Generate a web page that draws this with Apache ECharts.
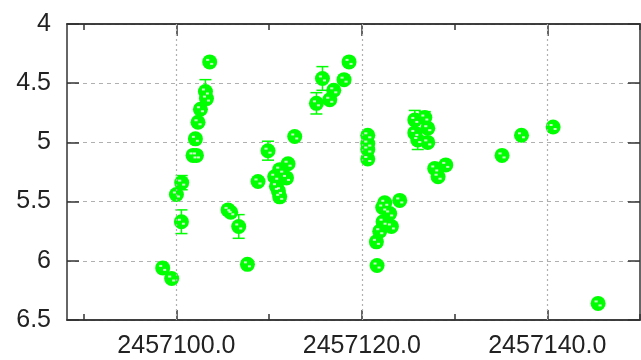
<!DOCTYPE html>
<html>
<head>
<meta charset="utf-8">
<script src="https://cdn.jsdelivr.net/npm/echarts@6/dist/echarts.min.js"></script>
<style>html,body{margin:0;padding:0;background:#fff}#c{width:641px;height:360px}</style>
</head>
<body>
<div id="c"></div>
<script>
const jd = [2457098.52,2457099.49,2457100.00,2457100.57,2457100.54,2457101.79,2457102.16,2457102.05,2457102.33,2457102.59,2457103.24,2457103.13,2457103.59,2457105.57,2457105.86,2457106.72,2457107.66,2457108.80,2457109.88,2457110.60,2457110.79,2457111.00,2457111.14,2457111.14,2457111.87,2457112.04,2457112.76,2457115.10,2457115.75,2457116.54,2457116.97,2457118.08,2457118.62,2457120.64,2457120.64,2457120.64,2457120.64,2457121.64,2457121.57,2457121.93,2457122.29,2457123.19,2457123.00,2457122.47,2457122.25,2457124.09,2457125.71,2457126.79,2457125.71,2457127.11,2457126.03,2457127.11,2457127.86,2457129.05,2457128.22,2457135.12,2457137.22,2457140.63,2457145.48];
const mag = [6.06,6.15,5.44,5.34,5.67,5.11,5.11,4.97,4.83,4.72,4.63,4.57,4.32,5.57,5.59,5.71,6.03,5.33,5.07,5.29,5.37,5.41,5.46,5.23,5.30,5.18,4.95,4.67,4.46,4.64,4.56,4.47,4.32,4.94,5.01,5.06,5.14,6.04,5.84,5.75,5.67,5.71,5.60,5.51,5.55,5.49,4.81,4.79,4.92,4.88,4.98,5.00,5.22,5.19,5.29,5.11,4.94,4.87,6.36];
const err = [0.02,0.03,0.02,0.06,0.10,0.03,0.03,0.03,0.03,0.03,0.03,0.10,0.02,0.02,0.02,0.10,0.03,0.02,0.08,0.03,0.03,0.03,0.03,0.03,0.03,0.03,0.02,0.09,0.10,0.03,0.03,0.03,0.03,0.03,0.03,0.03,0.03,0.02,0.03,0.03,0.03,0.03,0.03,0.03,0.03,0.02,0.08,0.05,0.03,0.03,0.08,0.03,0.03,0.02,0.03,0.02,0.02,0.02,0.02];
const xMajorTicks = [2457100, 2457120, 2457140];
const xMinorTicks = [2457090, 2457110, 2457130, 2457150];
const xMin = 2457088.2, xMax = 2457150.0;
const yMin = 4, yMax = 6.5, yStep = 0.5;

const pts = jd.map((x, i) => [x, mag[i], err[i]]);
const green = '#00ff00';
const frame = {show: true, lineStyle: {color: '#333', width: 1.5}};
const font = {fontFamily: '"Liberation Sans", Arial, sans-serif', fontSize: 25, color: '#222'};

function xAxisDef(pos, ticks, len, labels) {
  return {
    type: 'value', position: pos, min: xMin, max: xMax, offset: 0,
    axisLine: frame,
    axisTick: {show: true, inside: true, length: len, customValues: ticks, lineStyle: {color: '#333', width: 1.5}},
    axisLabel: labels ? Object.assign({show: true, margin: 14, customValues: ticks, formatter: v => Number(v).toFixed(1)}, font) : {show: false},
    splitLine: {show: false}
  };
}
function yAxisDef(pos, labels) {
  return {
    type: 'value', position: pos, inverse: true, min: yMin, max: yMax, interval: yStep,
    axisLine: frame,
    axisTick: {show: true, inside: true, length: 12, lineStyle: {color: '#333', width: 1.5}},
    axisLabel: labels ? Object.assign({show: true, margin: 16, formatter: v => String(Number(v.toFixed(2)))}, font) : {show: false},
    splitLine: labels ? {show: true, lineStyle: {color: '#b0b0b0', type: [4, 4], width: 1}} : {show: false}
  };
}

const chart = echarts.init(document.getElementById('c'), null, {renderer: 'canvas'});
chart.setOption({
  animation: false,
  backgroundColor: '#fff',
  grid: {left: 67, right: 1, top: 24, bottom: 40, containLabel: false},
  xAxis: [
    xAxisDef('bottom', xMajorTicks, 10, true),
    xAxisDef('top', xMajorTicks, 12, false),
    xAxisDef('bottom', xMinorTicks, 6, false),
    xAxisDef('top', xMinorTicks, 6, false)
  ],
  yAxis: [yAxisDef('left', true), yAxisDef('right', false)],
  series: [
    {
      type: 'custom', xAxisIndex: 0, yAxisIndex: 0, z: 1, silent: true,
      data: pts,
      renderItem: function (params, api) {
        const x = api.value(0), y = api.value(1), e = api.value(2);
        const a = api.coord([x, y - e]), b = api.coord([x, y + e]);
        const cw = 6;
        const st = {stroke: green, lineWidth: 1.5};
        return {type: 'group', children: [
          {type: 'line', shape: {x1: a[0], y1: a[1], x2: b[0], y2: b[1]}, style: st},
          {type: 'line', shape: {x1: a[0] - cw, y1: a[1], x2: a[0] + cw, y2: a[1]}, style: st},
          {type: 'line', shape: {x1: b[0] - cw, y1: b[1], x2: b[0] + cw, y2: b[1]}, style: st}
        ]};
      },
      markLine: {
        silent: true, symbol: 'none', animation: false,
        label: {show: false},
        lineStyle: {color: '#b0b0b0', type: [2, 3], width: 1.2},
        data: xMajorTicks.map(v => ({xAxis: v}))
      }
    },
    {
      type: 'scatter', z: 3, silent: true, symbol: 'circle', symbolSize: 15,
      itemStyle: {color: green, opacity: 1},
      data: pts.map(p => [p[0], p[1]])
    },
    {
      type: 'scatter', z: 4, silent: true, symbol: 'rect', symbolSize: [3, 2], symbolOffset: [-2, -2],
      itemStyle: {color: '#ffffff'},
      data: pts.map(p => [p[0], p[1]])
    },
    {
      type: 'scatter', z: 4, silent: true, symbol: 'rect', symbolSize: [3, 2], symbolOffset: [2, 2],
      itemStyle: {color: '#ffffff'},
      data: pts.map(p => [p[0], p[1]])
    }
  ]
});
</script>
</body>
</html>
